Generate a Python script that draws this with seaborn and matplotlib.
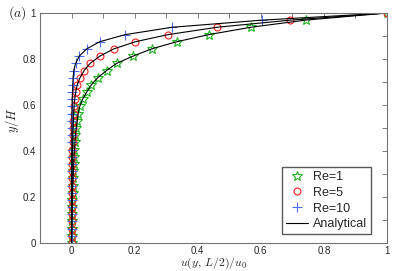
import matplotlib
matplotlib.use("Agg")
import matplotlib.pyplot as plt
import seaborn as sns
from matplotlib.ticker import MultipleLocator, FuncFormatter

# y/H sample positions (33 points, bottom to lid)
y_pos = [0.0, 0.031, 0.062, 0.094, 0.125, 0.156, 0.188, 0.219, 0.25, 0.281,
         0.312, 0.344, 0.375, 0.406, 0.438, 0.469, 0.5, 0.531, 0.562, 0.594,
         0.625, 0.656, 0.688, 0.719, 0.75, 0.781, 0.812, 0.844, 0.875, 0.906,
         0.938, 0.969, 1.0]

u_re1 = [0.0, 0.0005, 0.001, 0.0015, 0.002, 0.0025, 0.003, 0.0035, 0.004, 0.005,
         0.006, 0.007, 0.008, 0.009, 0.011, 0.012, 0.015, 0.018, 0.021, 0.026,
         0.035, 0.048, 0.063, 0.083, 0.111, 0.143, 0.194, 0.254, 0.333, 0.435,
         0.568, 0.742, 1.0]

u_re5 = [0.0, 0.0, 0.0005, 0.0005, 0.001, 0.001, 0.001, 0.0015, 0.0015, 0.002,
         0.002, 0.0025, 0.003, 0.003, 0.004, 0.004, 0.005, 0.006, 0.007, 0.008,
         0.010, 0.013, 0.018, 0.027, 0.040, 0.059, 0.089, 0.134, 0.202, 0.306,
         0.461, 0.694, 1.0]

u_re10 = [0.0, 0.0, 0.0, 0.0, 0.0, 0.0, 0.0, 0.0, 0.0, 0.0,
          0.0, 0.0, 0.0, 0.001, 0.001, 0.001, 0.001, 0.001, 0.001, 0.002,
          0.002, 0.003, 0.004, 0.005, 0.007, 0.013, 0.024, 0.048, 0.089, 0.170,
          0.319, 0.605, 1.0]

series = [("Re=1", u_re1, "*", "#22b522", 7.5),
          ("Re=5", u_re5, "o", "#ff2020", 5),
          ("Re=10", u_re10, "+", "#4d6dff", 7.5)]

sns.set_style("white")
plt.rcParams["font.family"] = ["Liberation Sans", "DejaVu Sans"]
plt.rcParams["mathtext.fontset"] = "cm"

fig = plt.figure(figsize=(4.07, 2.71), dpi=100)
ax = fig.add_axes([40 / 407, 28 / 271, 347 / 407, 230 / 271])

for name, u, mk, col, ms in series:
    sns.lineplot(x=u, y=y_pos, sort=False, estimator=None, ax=ax,
                 marker=mk, linestyle="", color=col, markersize=ms,
                 markerfacecolor="none", markeredgecolor=col,
                 markeredgewidth=0.8, label=name)

for i, (name, u, mk, col, ms) in enumerate(series):
    sns.lineplot(x=u, y=y_pos, sort=False, estimator=None, ax=ax,
                 color="black", linewidth=0.8,
                 label="Analytical" if i == 0 else None)

ax.set_xlim(-0.1, 1)
ax.set_ylim(0, 1)
ax.xaxis.set_major_locator(MultipleLocator(0.2))
ax.xaxis.set_minor_locator(MultipleLocator(0.1))
ax.yaxis.set_major_locator(MultipleLocator(0.2))
ax.yaxis.set_minor_locator(MultipleLocator(0.1))
fmt = FuncFormatter(lambda v, p: "%g" % round(v, 2))
ax.xaxis.set_major_formatter(fmt)
ax.yaxis.set_major_formatter(fmt)
ax.tick_params(which="both", direction="in", top=True, right=True,
               length=3.5, width=0.6, color="0.4", labelsize=7, pad=3)
ax.tick_params(axis="x", pad=2)
for sp in ax.spines.values():
    sp.set_color("0.45")
    sp.set_linewidth(0.8)

ax.set_xlabel(r"$u(y,\,L/2)/u_0$", fontsize=8.5)
ax.set_ylabel(r"$y/H$", fontsize=9)
ax.xaxis.set_label_coords(0.5, -0.054)
ax.yaxis.set_label_coords(-0.056, 0.535)
fig.text(0.02, 0.952, r"$(a)$", fontsize=10, va="center")

leg = ax.legend(loc="lower right", bbox_to_anchor=(0.954, 0.039),
                borderaxespad=0, fontsize=9, fancybox=False, framealpha=1,
                edgecolor="0.35", handlelength=1.8, labelspacing=0.3,
                borderpad=0.3, handletextpad=0.4)
leg.get_frame().set_linewidth(1.0)

fig.savefig("out.png", dpi=100)
